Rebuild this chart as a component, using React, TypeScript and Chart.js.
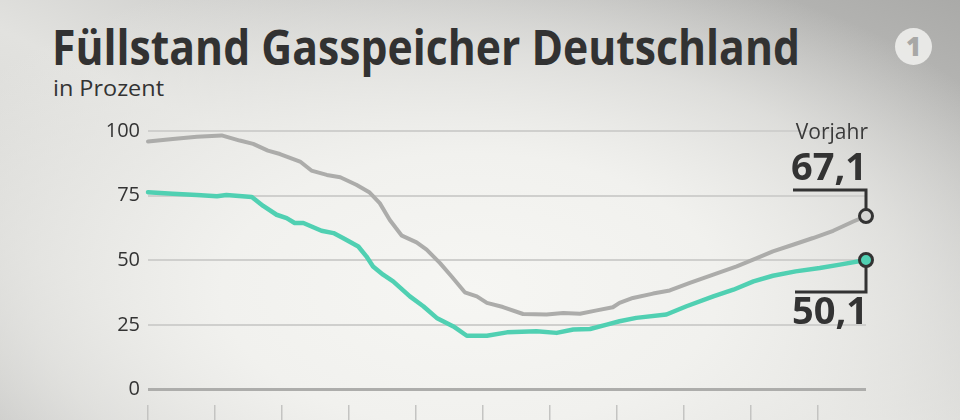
import React, { useEffect, useLayoutEffect, useRef } from "react";
import { Chart, registerables } from "chart.js";

Chart.register(...registerables);

const title = "Füllstand Gasspeicher Deutschland";
const subtitle = "in Prozent";
const vorjahrLabel = "Vorjahr";

const yTicks = [0, 25, 50, 75, 100];
const xTicks = [0, 1, 2, 3, 4, 5, 6, 7, 8, 9, 10];
const xMin = 0;
const xMax = 10.72;
const yMin = -6;
const yMax = 100;

// x in tick intervals (months), y in percent
const vorjahrX = [0, 0.37, 0.73, 1.1, 1.37, 1.57, 1.79, 1.97, 2.27, 2.44, 2.67, 2.87, 3.11, 3.31, 3.46, 3.61, 3.79, 4.01, 4.16, 4.36, 4.53, 4.73, 4.91, 5.06, 5.3, 5.6, 5.95, 6.2, 6.45, 6.7, 6.94, 7.04, 7.24, 7.54, 7.79, 8.09, 8.44, 8.79, 9.09, 9.33, 9.63, 9.93, 10.23, 10.53, 10.72];
const vorjahrY = [95.9, 96.9, 97.8, 98.3, 96.3, 95, 92.4, 91.1, 88.2, 84.7, 83, 82.1, 79.2, 76.2, 72.1, 65.6, 59.5, 56.9, 54.1, 48.9, 43.8, 37.6, 36, 33.5, 31.9, 29.2, 29, 29.6, 29.3, 30.6, 31.8, 33.5, 35.4, 37.1, 38.3, 41.2, 44.4, 47.6, 50.8, 53.4, 56, 58.6, 61.4, 65, 67.1];

const aktuellX = [0, 0.37, 0.73, 1.03, 1.17, 1.55, 1.72, 1.92, 2.07, 2.19, 2.32, 2.59, 2.77, 2.91, 3.14, 3.26, 3.36, 3.51, 3.66, 3.91, 4.11, 4.31, 4.56, 4.76, 5.06, 5.36, 5.8, 6.1, 6.35, 6.6, 6.85, 7.04, 7.29, 7.74, 8.04, 8.44, 8.74, 9.04, 9.33, 9.67, 10.03, 10.33, 10.72];
const aktuellY = [76.3, 75.7, 75.2, 74.8, 75.2, 74.5, 71, 67.6, 66.3, 64.4, 64.4, 61.4, 60.5, 58.6, 55.3, 51.5, 47.6, 44.4, 41.8, 36, 32.2, 27.7, 24.4, 20.8, 20.8, 22.1, 22.5, 21.9, 23.2, 23.4, 25.1, 26.4, 27.7, 29, 32.2, 36, 38.6, 41.8, 44, 45.7, 47, 48.3, 50.1];

const GREY = "#acacaa";
const TEAL = "#50d0b2";
const DARK = "#333333";
const FONT = '"Open Sans", "DejaVu Sans", sans-serif';

const fmt = (v: number) => v.toFixed(1).replace(".", ",");

function FitText({ text, left, top, width, size, weight, color }: any) {
  const ref = useRef<HTMLSpanElement>(null);
  useLayoutEffect(() => {
    const el = ref.current;
    if (!el) return;
    el.style.transform = "none";
    const w = el.getBoundingClientRect().width;
    el.style.transform = `scaleX(${width / w})`;
  }, [text, width]);
  return (
    <span
      ref={ref}
      style={{
        position: "absolute",
        left,
        top,
        fontFamily: FONT,
        fontSize: size,
        fontWeight: weight,
        color,
        lineHeight: 1,
        whiteSpace: "nowrap",
        transformOrigin: "left top",
        display: "inline-block",
      }}
    >
      {text}
    </span>
  );
}

export default function App() {
  const canvasRef = useRef<HTMLCanvasElement>(null);

  useEffect(() => {
    const canvas = canvasRef.current;
    if (!canvas) return;
    const lastG = vorjahrX.length - 1;
    const lastT = aktuellX.length - 1;

    const bracketPlugin = {
      id: "brackets",
      beforeDatasetsDraw(chart: any) {
        const { ctx, scales } = chart;
        const gx = scales.x.getPixelForValue(vorjahrX[lastG]);
        const gy = scales.y.getPixelForValue(vorjahrY[lastG]);
        const tx = scales.x.getPixelForValue(aktuellX[lastT]);
        const ty = scales.y.getPixelForValue(aktuellY[lastT]);
        ctx.save();
        ctx.strokeStyle = DARK;
        ctx.lineWidth = 3;
        ctx.lineCap = "butt";
        ctx.lineJoin = "miter";
        ctx.beginPath();
        ctx.moveTo(gx - 73, gy - 26);
        ctx.lineTo(gx, gy - 26);
        ctx.lineTo(gx, gy - 6);
        ctx.stroke();
        ctx.beginPath();
        ctx.moveTo(tx, ty + 6);
        ctx.lineTo(tx, ty + 32);
        ctx.lineTo(tx - 71, ty + 32);
        ctx.stroke();
        ctx.restore();
      },
      afterDatasetsDraw(chart: any) {
        const { ctx, scales } = chart;
        const gx = scales.x.getPixelForValue(vorjahrX[lastG]);
        const gy = scales.y.getPixelForValue(vorjahrY[lastG]);
        const tx = scales.x.getPixelForValue(aktuellX[lastT]);
        const ty = scales.y.getPixelForValue(aktuellY[lastT]);
        ctx.save();
        ctx.fillStyle = DARK;
        ctx.textAlign = "right";
        ctx.textBaseline = "alphabetic";
        ctx.font = `700 38px ${FONT}`;
        ctx.fillText(fmt(vorjahrY[lastG]), gx + 1, gy - 36);
        ctx.fillText(fmt(aktuellY[lastT]), tx + 2, ty + 64);
        ctx.font = `400 21px ${FONT}`;
        ctx.fillStyle = "#3a3a3a";
        ctx.fillText(vorjahrLabel, gx + 2, gy - 77);
        ctx.restore();
      },
    };

    const chart = new Chart(canvas, {
      type: "line",
      data: {
        datasets: [
          {
            label: "Vorjahr",
            data: vorjahrX.map((x, i) => ({ x, y: vorjahrY[i] })),
            borderColor: GREY,
            borderWidth: 4,
            pointRadius: (c: any) => (c.dataIndex === lastG ? 6.5 : 0),
            pointBackgroundColor: "#d6d6d4",
            pointBorderColor: DARK,
            pointBorderWidth: 3,
            tension: 0,
            borderJoinStyle: "round",
            borderCapStyle: "round",
            clip: false as any,
          },
          {
            label: "Aktuell",
            data: aktuellX.map((x, i) => ({ x, y: aktuellY[i] })),
            borderColor: TEAL,
            borderWidth: 4.5,
            pointRadius: (c: any) => (c.dataIndex === lastT ? 6.5 : 0),
            pointBackgroundColor: TEAL,
            pointBorderColor: DARK,
            pointBorderWidth: 3,
            tension: 0,
            borderJoinStyle: "round",
            borderCapStyle: "round",
            clip: false as any,
          },
        ],
      },
      options: {
        responsive: false,
        animation: false,
        devicePixelRatio: 1,
        layout: { padding: { top: 131, left: 0, right: 94, bottom: 0 } },
        plugins: { legend: { display: false }, tooltip: { enabled: false }, title: { display: false } },
        scales: {
          x: {
            type: "linear",
            min: xMin,
            max: xMax,
            afterBuildTicks: (s: any) => {
              s.ticks = xTicks.map((v) => ({ value: v }));
            },
            afterFit: (s: any) => {
              s.height = 15;
              s.paddingLeft = 0;
              s.paddingRight = 0;
            },
            ticks: { display: false },
            border: { display: false },
            grid: {
              drawOnChartArea: false,
              drawTicks: true,
              tickLength: 15,
              color: "#c4c4c2",
              lineWidth: 1.5,
            },
          },
          y: {
            type: "linear",
            min: yMin,
            max: yMax,
            afterBuildTicks: (s: any) => {
              s.ticks = yTicks.map((v) => ({ value: v }));
            },
            afterFit: (s: any) => {
              s.width = 148;
              s.paddingTop = 0;
              s.paddingBottom = 0;
            },
            border: { display: false },
            ticks: {
              color: "#333",
              padding: 8,
              font: { family: FONT, size: 20, weight: "normal" as any },
            },
            grid: {
              drawTicks: false,
              color: (c: any) => (c.tick && c.tick.value === 0 ? "#adadab" : "#cfcfcd"),
              lineWidth: (c: any) => (c.tick && c.tick.value === 0 ? 3 : 2),
            },
          },
        },
      },
      plugins: [bracketPlugin],
    } as any);
    return () => chart.destroy();
  }, []);

  return (
    <div
      style={{
        position: "fixed",
        left: 0,
        top: 0,
        width: 960,
        height: 420,
        overflow: "hidden",
        background:
          "radial-gradient(ellipse 620px 340px at 470px 290px, #f6f6f3 0%, #f1f1ee 40%, rgba(234,234,231,0.7) 70%, rgba(210,210,208,0) 100%), linear-gradient(205deg, #aaaaa8 0%, #c6c6c4 30%, #e2e2df 55%, #d6d6d3 80%, #c2c2c0 100%)",
      }}
    >
      <FitText text={title} left={52} top={22} width={748} size={49} weight={700} color="#323232" />
      <FitText text={subtitle} left={53} top={78} width={111} size={21} weight={400} color="#333333" />
      <div
        style={{
          position: "absolute",
          left: 895,
          top: 28,
          width: 37,
          height: 37,
          borderRadius: "50%",
          background: "rgba(238,238,236,0.9)",
          color: "#a8a8a6",
          fontFamily: FONT,
          fontWeight: 800,
          fontSize: 26,
          lineHeight: "37px",
          textAlign: "center",
        }}
      >
        1
      </div>
      <canvas ref={canvasRef} width={960} height={420} style={{ position: "absolute", left: 0, top: 0 }} />
    </div>
  );
}
